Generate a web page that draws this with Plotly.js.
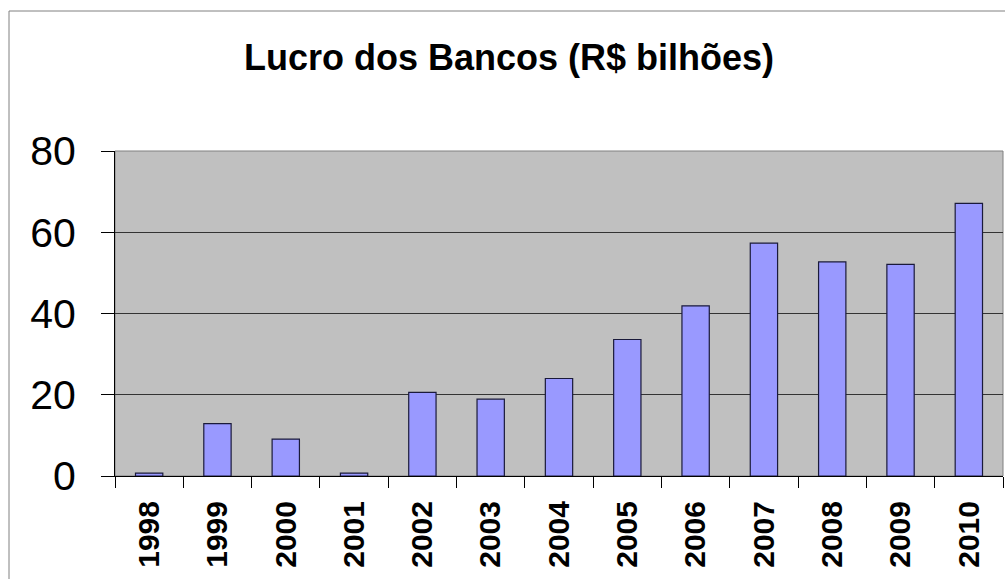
<!DOCTYPE html>
<html>
<head>
<meta charset="utf-8">
<script src="https://cdn.plot.ly/plotly-3.0.1.min.js"></script>
<style>html,body{margin:0;padding:0;background:#fff;}#chart{width:1005px;height:579px;}</style>
</head>
<body>
<div id="chart"></div>
<script>
const years = ["1998","1999","2000","2001","2002","2003","2004","2005","2006","2007","2008","2009","2010"];
const lucro = [0.7, 12.9, 9.1, 0.7, 20.6, 18.9, 24.0, 33.6, 41.9, 57.3, 52.7, 52.1, 67.1];
const yTicks = [0, 20, 40, 60, 80];
const chartTitle = "Lucro dos Bancos (R$ bilhões)";

const trace = {
  type: "bar",
  x: years,
  y: lucro,
  marker: {color: "#9999FF", line: {color: "#1a1a3a", width: 1.2}},
  hoverinfo: "x+y"
};

const layout = {
  width: 1005, height: 579,
  margin: {l: 115, r: 2, t: 151, b: 103, pad: 0},
  paper_bgcolor: "#ffffff",
  plot_bgcolor: "#C0C0C0",
  bargap: 0.6,
  showlegend: false,
  font: {family: "Liberation Sans, Arial, sans-serif", color: "#000"},
  title: {
    text: "<b>" + chartTitle + "</b>",
    font: {size: 36, family: "Liberation Sans, Arial, sans-serif", color: "#000"},
    x: 509/1005, xanchor: "center", xref: "container",
    y: 1 - 57/579, yanchor: "middle", yref: "container"
  },
  xaxis: {
    type: "category",
    tickson: "boundaries",
    ticks: "outside", ticklen: 11, tickcolor: "#000", tickwidth: 1,
    tickangle: -90,
    tickfont: {size: 30, family: "Liberation Sans, Arial, sans-serif", color: "#000", weight: "bold"},
    showline: true, linecolor: "#000", linewidth: 1,
    showgrid: false, zeroline: false,
    ticklabelstandoff: 12
  },
  yaxis: {
    range: [0, 80],
    tickvals: yTicks,
    ticktext: yTicks.map(String),
    ticks: "outside", ticklen: 13, tickcolor: "#000", tickwidth: 1,
    tickfont: {size: 41, family: "Liberation Sans, Arial, sans-serif", color: "#000"},
    showline: true, linecolor: "#000", linewidth: 1,
    showgrid: true, gridcolor: "#333333", gridwidth: 1,
    zeroline: false,
    ticklabelstandoff: 17
  },
  shapes: [
    {type: "rect", xref: "paper", yref: "paper", x0: 0, x1: 1, y0: 0, y1: 1,
     line: {color: "#808080", width: 1}, fillcolor: "rgba(0,0,0,0)", layer: "below"},
    {type: "rect", xref: "paper", yref: "paper", x0: -106/888, x1: 1.2, y0: -1, y1: (476-11)/325,
     line: {color: "#808080", width: 1}, fillcolor: "rgba(0,0,0,0)"}
  ]
};

Plotly.newPlot("chart", [trace], layout, {displayModeBar: false, staticPlot: true});
</script>
</body>
</html>
